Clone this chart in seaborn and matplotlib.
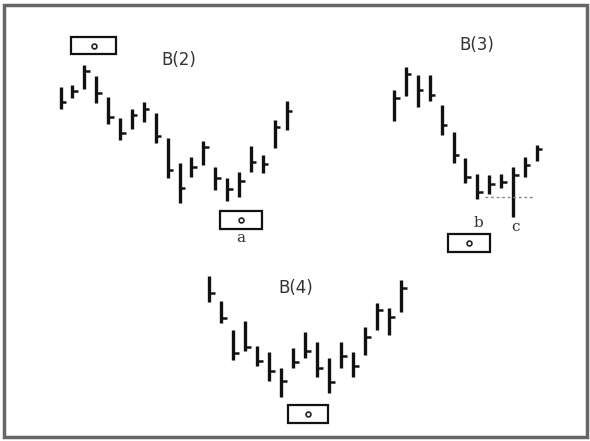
import matplotlib
matplotlib.use("Agg")
import matplotlib.pyplot as plt
import seaborn as sns
from matplotlib.patches import Rectangle

# bar data (high / low / close), price units = pixels measured up from the bottom
b2_high = [354, 356, 376, 365, 344, 323, 332, 339, 328, 303, 278, 284, 300, 274, 263, 269, 295, 286, 321, 340]
b2_low = [332, 343, 352, 338, 317, 301, 312, 319, 298, 263, 238, 264, 276, 251, 240, 244, 269, 268, 293, 311]
b2_close = [339, 350, 370, 348, 324, 308, 326, 332, 305, 271, 253, 274, 294, 263, 252, 260, 279, 277, 314, 330]

b3_slot = [0, 1, 2, 3, 4, 5, 6, 7, 8, 9, 10, 11, 12]
b3_high = [351, 374, 366, 366, 336, 309, 283, 267, 266, 267, 274, 284, 296]
b3_low = [320, 345, 334, 340, 306, 278, 258, 242, 247, 253, 224, 264, 280]
b3_close = [343, 367, 351, 346, 316, 286, 264, 249, 257, 259, 266, 276, 292]

b4_high = [165, 140, 111, 120, 95, 89, 73, 93, 109, 99, 83, 99, 89, 114, 138, 133, 161]
b4_low = [139, 118, 81, 90, 75, 60, 44, 73, 83, 64, 48, 73, 64, 86, 111, 106, 129]
b4_close = [148, 123, 88, 94, 80, 70, 60, 79, 90, 73, 59, 85, 75, 104, 131, 124, 153]

labels = ["B(2)", "B(3)", "B(4)"]
notes = ["a", "b", "c"]

sns.set_theme(style="white")
fig = plt.figure(figsize=(5.9, 4.41), dpi=100)
ax = fig.add_axes([0, 0, 1, 1])
ax.set_xlim(0, 590)
ax.set_ylim(0, 441)
ax.axis("off")


def draw_bars(x0, step, slots, high, low, close):
    xs = [x0 + s * step for s in slots]
    ax.vlines(xs, low, high, color="#111111", linewidth=2.4)
    ax.hlines(close, xs, [x + 5.5 for x in xs], color="#111111", linewidth=1.8)


draw_bars(60.5, 11.9, range(len(b2_high)), b2_high, b2_low, b2_close)
draw_bars(394, 11.9, b3_slot, b3_high, b3_low, b3_close)
draw_bars(209, 12.0, range(len(b4_high)), b4_high, b4_low, b4_close)

# boxes with a small circle
for bx, by, bw, bh in [(71, 387, 45, 17), (220, 212, 42, 18), (448, 189, 42, 18), (288, 18, 40, 18)]:
    ax.add_patch(Rectangle((bx, by), bw, bh, fill=False, edgecolor="#111111", linewidth=1.6))
    ax.plot(bx + bw / 2, by + bh / 2, marker="o", markersize=3.5, markerfacecolor="white",
            markeredgecolor="#222222", markeredgewidth=1.2)

ax.text(179, 381, labels[0], fontsize=12, color="#333333", ha="center", va="center")
ax.text(477, 396, labels[1], fontsize=12, color="#333333", ha="center", va="center")
ax.text(296, 153, labels[2], fontsize=12, color="#333333", ha="center", va="center")

ax.text(241, 203, notes[0], fontsize=11, family="DejaVu Serif", color="#333333", ha="center", va="center")
ax.text(478, 218, notes[1], fontsize=11, family="DejaVu Serif", color="#333333", ha="center", va="center")
ax.text(515, 214, notes[2], fontsize=11, family="DejaVu Serif", color="#333333", ha="center", va="center")

ax.plot([485, 534], [244, 244], linestyle=(0, (2, 2)), color="#888888", linewidth=1.0)

# outer frame
ax.add_patch(Rectangle((4, 4), 583, 432, fill=False, edgecolor="#666666", linewidth=2.5))

fig.savefig("out.png", dpi=100)
